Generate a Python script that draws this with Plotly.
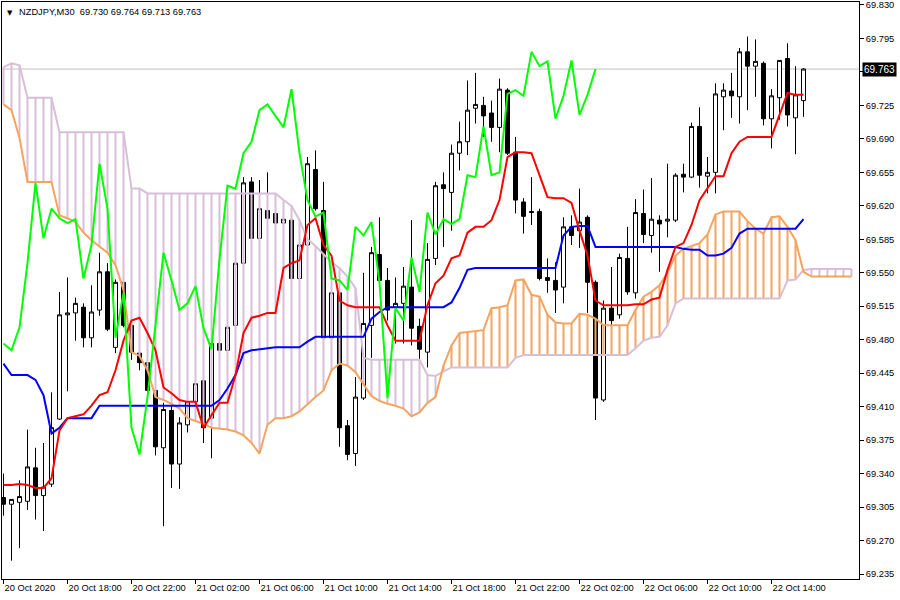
import plotly.graph_objects as go
import pandas as pd

symbol = "NZDJPY,M30"

# 30-minute bars from 20 Oct 2020 14:00 (cloud is projected 6 bars beyond the last candle)
times = pd.date_range("2020-10-20 14:00", periods=107, freq="30min")

open_ = [69.315, 69.308, 69.310, 69.311, 69.346, 69.317, 69.329, 69.397, 69.506, 69.508,
         69.514, 69.482, 69.511, 69.551, 69.472, 69.540, 69.495, 69.466, 69.456, 69.427,
         69.367, 69.406, 69.350, 69.391, 69.415, 69.437, 69.398, 69.476, 69.469, 69.495,
         69.560, 69.645, 69.586, 69.615, 69.612, 69.602, 69.605, 69.544, 69.579, 69.658,
         69.615, 69.482, 69.529, 69.390, 69.361, 69.419, 69.495, 69.569, 69.542, 69.514,
         69.518, 69.535, 69.494, 69.467, 69.565, 69.642, 69.634, 69.675, 69.687, 69.722,
         69.725, 69.717, 69.702, 69.741, 69.676, 69.624, 69.614, 69.614, 69.545, 69.542,
         69.535, 69.598, 69.594, 69.608, 69.540, 69.417, 69.513, 69.506, 69.565, 69.529,
         69.612, 69.589, 69.605, 69.604, 69.605, 69.653, 69.650, 69.703, 69.651, 69.655,
         69.734, 69.740, 69.734, 69.781, 69.766, 69.769, 69.711, 69.733, 69.774, 69.712,
         69.730]

high = [69.340, 69.313, 69.333, 69.386, 69.367, 69.372, 69.425, 69.530, 69.545, 69.524,
        69.518, 69.537, 69.571, 69.560, 69.543, 69.542, 69.502, 69.474, 69.464, 69.432,
        69.414, 69.411, 69.399, 69.422, 69.440, 69.443, 69.483, 69.485, 69.500, 69.568,
        69.650, 69.650, 69.647, 69.655, 69.621, 69.610, 69.615, 69.584, 69.671, 69.678,
        69.645, 69.532, 69.537, 69.396, 69.441, 69.550, 69.577, 69.608, 69.555, 69.545,
        69.556, 69.605, 69.502, 69.581, 69.645, 69.655, 69.684, 69.708, 69.751, 69.759,
        69.734, 69.730, 69.753, 69.743, 69.692, 69.628, 69.650, 69.617, 69.565, 69.561,
        69.608, 69.610, 69.638, 69.610, 69.542, 69.521, 69.556, 69.570, 69.598, 69.627,
        69.637, 69.649, 69.610, 69.664, 69.654, 69.664, 69.707, 69.723, 69.671, 69.748,
        69.748, 69.759, 69.785, 69.797, 69.794, 69.771, 69.742, 69.772, 69.790, 69.766,
        69.764]

low = [69.296, 69.249, 69.262, 69.302, 69.292, 69.280, 69.326, 69.396, 69.426, 69.479,
       69.472, 69.472, 69.505, 69.489, 69.466, 69.493, 69.459, 69.448, 69.417, 69.359,
       69.285, 69.325, 69.324, 69.383, 69.401, 69.372, 69.356, 69.464, 69.462, 69.490,
       69.555, 69.584, 69.582, 69.597, 69.597, 69.599, 69.542, 69.540, 69.574, 69.615,
       69.474, 69.469, 69.368, 69.354, 69.348, 69.417, 69.461, 69.532, 69.500, 69.476,
       69.476, 69.474, 69.456, 69.451, 69.558, 69.577, 69.594, 69.657, 69.673, 69.706,
       69.692, 69.687, 69.676, 69.673, 69.612, 69.591, 69.600, 69.542, 69.529, 69.508,
       69.518, 69.579, 69.576, 69.508, 69.396, 69.415, 69.490, 69.502, 69.527, 69.523,
       69.581, 69.571, 69.551, 69.587, 69.603, 69.634, 69.649, 69.639, 69.633, 69.633,
       69.699, 69.712, 69.706, 69.720, 69.734, 69.704, 69.680, 69.710, 69.703, 69.674,
       69.713]

close = [69.308, 69.313, 69.316, 69.347, 69.317, 69.326, 69.388, 69.506, 69.508, 69.518,
         69.482, 69.509, 69.551, 69.491, 69.540, 69.495, 69.467, 69.456, 69.427, 69.368,
         69.407, 69.350, 69.393, 69.415, 69.434, 69.388, 69.476, 69.469, 69.493, 69.560,
         69.644, 69.586, 69.617, 69.607, 69.602, 69.606, 69.544, 69.579, 69.664, 69.617,
         69.482, 69.529, 69.388, 69.360, 69.420, 69.497, 69.571, 69.542, 69.511, 69.518,
         69.536, 69.492, 69.470, 69.564, 69.641, 69.638, 69.675, 69.687, 69.720, 69.726,
         69.714, 69.702, 69.742, 69.675, 69.626, 69.609, 69.613, 69.544, 69.542, 69.532,
         69.598, 69.589, 69.603, 69.540, 69.419, 69.513, 69.500, 69.566, 69.530, 69.613,
         69.590, 69.606, 69.601, 69.606, 69.652, 69.650, 69.703, 69.652, 69.655, 69.737,
         69.741, 69.735, 69.781, 69.766, 69.771, 69.711, 69.735, 69.772, 69.715, 69.736,
         69.763]

tenkan = [69.328, 69.328, 69.329, 69.328, 69.325, 69.325, 69.335, 69.385, 69.398, 69.400,
          69.402, 69.411, 69.422, 69.425, 69.448, 69.479, 69.500, 69.503, 69.487, 69.469,
          69.430, 69.424, 69.417, 69.415, 69.415, 69.388, 69.401, 69.414, 69.414, 69.443,
          69.487, 69.503, 69.505, 69.508, 69.508, 69.555, 69.560, 69.563, 69.600, 69.607,
          69.579, 69.568, 69.521, 69.516, 69.514, 69.514, 69.514, 69.514, 69.495, 69.479,
          69.479, 69.479, 69.479, 69.516, 69.539, 69.547, 69.565, 69.568, 69.592, 69.598,
          69.598, 69.605, 69.626, 69.671, 69.676, 69.676, 69.675, 69.652, 69.629, 69.628,
          69.628, 69.623, 69.594, 69.568, 69.521, 69.516, 69.516, 69.516, 69.516, 69.517,
          69.517, 69.522, 69.524, 69.553, 69.577, 69.581, 69.600, 69.626, 69.638, 69.651,
          69.651, 69.675, 69.687, 69.692, 69.692, 69.692, 69.692, 69.715, 69.738, 69.736,
          69.736]

kijun = [69.455, 69.443, 69.443, 69.443, 69.438, 69.422, 69.382, 69.388, 69.398, 69.398,
         69.398, 69.398, 69.411, 69.411, 69.411, 69.411, 69.411, 69.411, 69.411, 69.411,
         69.411, 69.411, 69.411, 69.411, 69.411, 69.411, 69.411, 69.417, 69.429, 69.443,
         69.466, 69.469, 69.470, 69.471, 69.472, 69.472, 69.472, 69.472, 69.478, 69.483,
         69.483, 69.483, 69.483, 69.483, 69.483, 69.483, 69.502, 69.509, 69.514, 69.514,
         69.514, 69.514, 69.514, 69.514, 69.514, 69.514, 69.519, 69.534, 69.553, 69.555,
         69.555, 69.555, 69.555, 69.555, 69.555, 69.555, 69.555, 69.555, 69.555, 69.555,
         69.589, 69.598, 69.599, 69.599, 69.577, 69.577, 69.577, 69.577, 69.577, 69.577,
         69.577, 69.577, 69.577, 69.577, 69.577, 69.575, 69.574, 69.574, 69.568, 69.568,
         69.570, 69.576, 69.591, 69.596, 69.596, 69.596, 69.596, 69.596, 69.596, 69.596,
         69.606]

senkou_a = [69.726, 69.720, 69.691, 69.645, 69.645, 69.645, 69.645, 69.610, 69.607, 69.603,
            69.592, 69.584, 69.577, 69.571, 69.558, 69.532, 69.467, 69.463, 69.448, 69.420,
            69.417, 69.413, 69.408, 69.398, 69.395, 69.392, 69.388, 69.387, 69.386, 69.384,
            69.380, 69.372, 69.361, 69.391, 69.398, 69.398, 69.400, 69.405, 69.413, 69.420,
            69.427, 69.448, 69.455, 69.453, 69.446, 69.433, 69.421, 69.416, 69.413, 69.411,
            69.408, 69.400, 69.404, 69.414, 69.420, 69.453, 69.474, 69.487, 69.488, 69.489,
            69.490, 69.513, 69.514, 69.516, 69.542, 69.543, 69.527, 69.525, 69.506, 69.498,
            69.497, 69.497, 69.507, 69.506, 69.502, 69.495, 69.495, 69.495, 69.495, 69.511,
            69.525, 69.530, 69.537, 69.550, 69.568, 69.575, 69.578, 69.581, 69.590, 69.611,
            69.614, 69.614, 69.614, 69.604, 69.596, 69.591, 69.608, 69.609, 69.598, 69.584,
            69.551, 69.546, 69.546, 69.546, 69.546, 69.546, 69.546]

senkou_b = [69.765, 69.769, 69.767, 69.733, 69.733, 69.733, 69.733, 69.697, 69.697, 69.697,
            69.697, 69.697, 69.697, 69.697, 69.697, 69.697, 69.638, 69.638, 69.633, 69.633,
            69.633, 69.633, 69.633, 69.633, 69.633, 69.633, 69.633, 69.633, 69.633, 69.633,
            69.633, 69.633, 69.633, 69.633, 69.633, 69.626, 69.620, 69.605, 69.585, 69.578,
            69.570, 69.561, 69.555, 69.546, 69.534, 69.461, 69.459, 69.459, 69.459, 69.459,
            69.459, 69.459, 69.459, 69.443, 69.442, 69.447, 69.451, 69.451, 69.451, 69.451,
            69.451, 69.451, 69.451, 69.451, 69.461, 69.464, 69.464, 69.464, 69.464, 69.464,
            69.464, 69.464, 69.464, 69.464, 69.464, 69.464, 69.464, 69.464, 69.464, 69.471,
            69.479, 69.482, 69.483, 69.495, 69.518, 69.523, 69.523, 69.523, 69.523, 69.523,
            69.523, 69.523, 69.523, 69.523, 69.523, 69.523, 69.523, 69.523, 69.542, 69.543,
            69.553, 69.554, 69.554, 69.554, 69.554, 69.554, 69.554]

# Chikou span = close plotted 26 bars back
chikou = close[26:]

tick_times = ["2020-10-20 14:00", "2020-10-20 18:00", "2020-10-20 22:00", "2020-10-21 02:00",
              "2020-10-21 06:00", "2020-10-21 10:00", "2020-10-21 14:00", "2020-10-21 18:00",
              "2020-10-21 22:00", "2020-10-22 02:00", "2020-10-22 06:00", "2020-10-22 10:00",
              "2020-10-22 14:00"]
tick_labels = ["20 Oct 2020", "20 Oct 18:00", "20 Oct 22:00", "21 Oct 02:00", "21 Oct 06:00",
               "21 Oct 10:00", "21 Oct 14:00", "21 Oct 18:00", "21 Oct 22:00", "22 Oct 02:00",
               "22 Oct 06:00", "22 Oct 10:00", "22 Oct 14:00"]
price_ticks = [69.235, 69.270, 69.305, 69.340, 69.375, 69.410, 69.445, 69.480, 69.515,
               69.550, 69.585, 69.620, 69.655, 69.690, 69.725, 69.760, 69.795, 69.830]

FONT = "Liberation Sans"
FSIZE = 9.3
C_TENKAN = "#FF0000"
C_KIJUN = "#0000FF"
C_CHIKOU = "#00FF00"
C_SPAN_A = "#F4A460"
C_SPAN_B = "#D8BFD8"

cloud_t = times[:len(senkou_a)]
bar_t = times[:len(close)]

fig = go.Figure()

# cloud hatching (vertical line per bar between the two spans)
for up_color, cond in ((C_SPAN_A, lambda a, b: a >= b), (C_SPAN_B, lambda a, b: a < b)):
    xs, ys = [], []
    for t, a, b in zip(cloud_t, senkou_a, senkou_b):
        if cond(a, b):
            xs += [t, t, None]
            ys += [a, b, None]
    fig.add_trace(go.Scatter(x=xs, y=ys, mode="lines", line=dict(color=up_color, width=2),
                             hoverinfo="skip"))

fig.add_trace(go.Scatter(x=cloud_t, y=senkou_b, mode="lines", line=dict(color=C_SPAN_B, width=2)))
fig.add_trace(go.Scatter(x=cloud_t, y=senkou_a, mode="lines", line=dict(color=C_SPAN_A, width=2)))

fig.add_trace(go.Candlestick(
    x=bar_t, open=open_, high=high, low=low, close=close,
    increasing=dict(line=dict(color="black", width=1), fillcolor="white"),
    decreasing=dict(line=dict(color="black", width=1), fillcolor="black"),
    whiskerwidth=0,
))

fig.add_trace(go.Scatter(x=bar_t, y=kijun, mode="lines", line=dict(color=C_KIJUN, width=2)))
fig.add_trace(go.Scatter(x=bar_t, y=tenkan, mode="lines", line=dict(color=C_TENKAN, width=2)))
fig.add_trace(go.Scatter(x=times[:len(chikou)], y=chikou, mode="lines",
                         line=dict(color=C_CHIKOU, width=2)))

last = close[-1]
fig.add_shape(type="line", xref="paper", x0=0, x1=1, yref="y", y0=last, y1=last,
              line=dict(color="#C0C0C0", width=1), layer="below")

fig.add_annotation(xref="paper", yref="y", x=1, y=last, xanchor="left", yanchor="middle",
                   xshift=3, text=f"{last:.3f}", showarrow=False, bgcolor="black",
                   font=dict(family=FONT, size=10, color="white"), borderpad=1)

title = f"{symbol}&nbsp;&nbsp;{open_[-1]:.3f} {high[-1]:.3f} {low[-1]:.3f} {close[-1]:.3f}"
fig.add_annotation(xref="paper", yref="paper", x=0, y=1, xanchor="left", yanchor="top",
                   xshift=15, yshift=-3, text=title, showarrow=False,
                   font=dict(family=FONT, size=FSIZE, color="black"))
fig.add_annotation(xref="paper", yref="paper", x=0, y=1, xanchor="left", yanchor="top",
                   xshift=3, yshift=-5, text="▼", showarrow=False,
                   font=dict(family="DejaVu Sans", size=7, color="black"))

fig.update_layout(
    width=900, height=600,
    margin=dict(l=2, r=41, t=2, b=21, autoexpand=False),
    paper_bgcolor="white", plot_bgcolor="white",
    showlegend=False,
    boxgap=0.5, boxgroupgap=0,
    xaxis=dict(
        type="date",
        range=["2020-10-20 13:54:22", "2020-10-22 19:28:07"],
        rangeslider=dict(visible=False),
        showgrid=False, zeroline=False, automargin=False,
        showline=True, linecolor="black", linewidth=1, mirror=True,
        ticks="outside", ticklen=4, tickcolor="black", tickwidth=1,
        tickvals=tick_times, ticktext=tick_labels, tickangle=0,
        ticklabelposition="outside right",
        tickfont=dict(family=FONT, size=FSIZE, color="black"),
    ),
    yaxis=dict(
        side="right",
        range=[69.2298, 69.8331],
        showgrid=False, zeroline=False, automargin=False,
        showline=True, linecolor="black", linewidth=1, mirror=True,
        ticks="outside", ticklen=4, tickcolor="black", tickwidth=1,
        tickvals=price_ticks, tickformat=".3f",
        tickfont=dict(family=FONT, size=FSIZE, color="black"),
    ),
)

fig.write_html("out.html", config={"displayModeBar": False},
               post_script="document.body.style.margin='0';")
